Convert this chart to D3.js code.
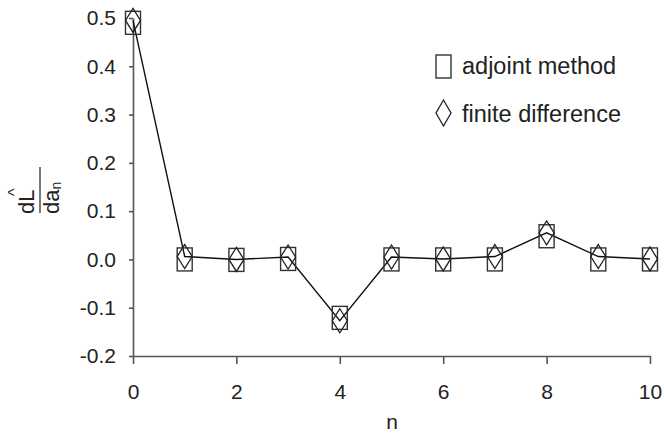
<!DOCTYPE html>
<html>
<head>
<meta charset="utf-8">
<script src="https://cdn.jsdelivr.net/npm/d3@7"></script>
<style>
  body { margin: 0; background: #fff; }
  text { font-family: "Liberation Sans", Arial, sans-serif; fill: #222; }
</style>
</head>
<body>
<div id="chart"></div>
<script>
const nValues = [0, 1, 2, 3, 4, 5, 6, 7, 8, 9, 10]
const adjoint = [0.49, 0.0, -0.001, 0.001, -0.121, 0.0, 0.0, 0.0, 0.048, 0.0, 0.0]
const finiteDiff = [0.495, 0.006, 0.0, 0.005, -0.127, 0.005, 0.001, 0.006, 0.055, 0.006, 0.001]
const xTicks = [0, 2, 4, 6, 8, 10]
const yTicks = [-0.2, -0.1, 0.0, 0.1, 0.2, 0.3, 0.4, 0.5]
const legendLabels = ["adjoint method", "finite difference"]

const MARGIN = { TOP: 18, BOTTOM: 77, LEFT: 133, RIGHT: 14 }
const WIDTH = 664 - MARGIN.LEFT - MARGIN.RIGHT
const HEIGHT = 433 - MARGIN.TOP - MARGIN.BOTTOM

const svg = d3.select("#chart")
  .append("svg")
    .attr("width", 664)
    .attr("height", 433)

const g = svg.append("g")
  .attr("transform", `translate(${MARGIN.LEFT}, ${MARGIN.TOP})`)

const x = d3.scaleLinear().domain([0, 10]).range([0, 517])
const y = d3.scaleLinear().domain([-0.2, 0.5]).range([HEIGHT, 0])

// axes
const xAxis = g.append("g")
  .attr("transform", `translate(0, ${HEIGHT})`)
  .call(d3.axisBottom(x).tickValues(xTicks).tickSizeInner(8).tickSizeOuter(0).tickPadding(20))
const yAxis = g.append("g")
  .call(d3.axisLeft(y).tickValues(yTicks).tickFormat(d3.format(".1f")).tickSizeInner(4).tickSizeOuter(0).tickPadding(13))

for (const ax of [xAxis, yAxis]) {
  ax.select(".domain").attr("stroke", "#555").attr("stroke-width", 1.6)
  ax.selectAll(".tick line").attr("stroke", "#555").attr("stroke-width", 1.6)
  ax.selectAll(".tick text")
    .attr("font-size", 21)
    .attr("font-family", "Liberation Sans, Arial, sans-serif")
    .attr("fill", "#222")
}
yAxis.selectAll(".tick text").text(d => d3.format(".1f")(d).replace("−", "-"))

// line through the finite difference points
const pts = nValues.map((n, i) => ({ n, a: adjoint[i], f: finiteDiff[i] }))
g.append("path")
  .datum(pts)
  .attr("fill", "none")
  .attr("stroke", "#111")
  .attr("stroke-width", 1.4)
  .attr("d", d3.line().x(d => x(d.n)).y(d => y(d.f)))

const BW = 15, BH = 23, DW = 15, DH = 24
const diamond = (cx, cy) => `M${cx},${cy - DH / 2}L${cx + DW / 2},${cy}L${cx},${cy + DH / 2}L${cx - DW / 2},${cy}Z`

g.selectAll("rect.adj")
  .data(pts)
  .enter().append("rect")
    .attr("class", "adj")
    .attr("x", d => x(d.n) - BW / 2)
    .attr("y", d => y(d.a) - BH / 2)
    .attr("width", BW)
    .attr("height", BH)
    .attr("fill", "none")
    .attr("stroke", "#333")
    .attr("stroke-width", 1.4)

g.selectAll("path.fd")
  .data(pts)
  .enter().append("path")
    .attr("class", "fd")
    .attr("d", d => diamond(x(d.n), y(d.f)))
    .attr("fill", "none")
    .attr("stroke", "#222")
    .attr("stroke-width", 1.3)

// legend
const legend = svg.append("g").attr("transform", "translate(436, 55)")
legend.append("rect")
  .attr("x", 0).attr("y", 0).attr("width", BW).attr("height", BH)
  .attr("fill", "none").attr("stroke", "#333").attr("stroke-width", 1.4)
legend.append("text").attr("x", 26).attr("y", 19).attr("font-size", 23.5).text(legendLabels[0])
legend.append("path")
  .attr("d", `M7.5,45L15,58L7.5,71L0,58Z`)
  .attr("fill", "none").attr("stroke", "#222").attr("stroke-width", 1.3)
legend.append("text").attr("x", 26).attr("y", 67).attr("font-size", 23.5).text(legendLabels[1])

// axis titles
svg.append("text")
  .attr("x", 392).attr("y", 429)
  .attr("text-anchor", "middle")
  .attr("font-size", 21)
  .text("n")

const yl = svg.append("g").attr("transform", "translate(40, 190) rotate(-90)")
yl.append("text").attr("x", -24).attr("y", -6).attr("font-size", 22).text("dL")
yl.append("text").attr("x", -6).attr("y", -20).attr("font-size", 16).text("^")
yl.append("line").attr("x1", -23).attr("x2", 23).attr("y1", 0).attr("y2", 0)
  .attr("stroke", "#222").attr("stroke-width", 1.2)
const den = yl.append("text").attr("x", -24).attr("y", 19).attr("font-size", 22)
den.append("tspan").text("da")
den.append("tspan").attr("font-size", 14).attr("dy", 2).text("n")
</script>
</body>
</html>
